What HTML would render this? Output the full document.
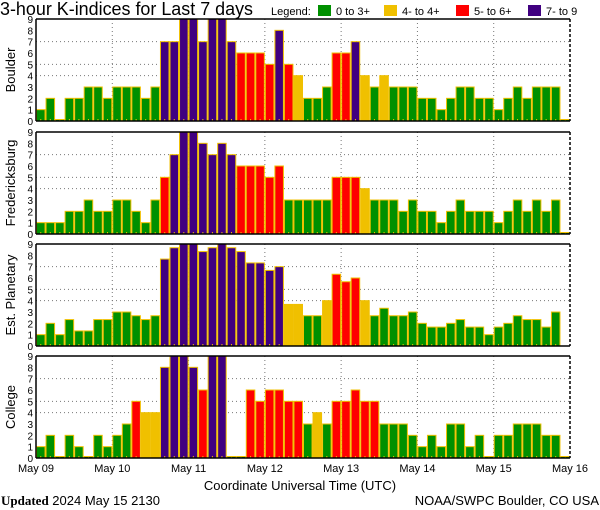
<!DOCTYPE html>
<html><head><meta charset="utf-8"><style>
body{margin:0;background:#fff}
svg{display:block;font-family:"Liberation Sans",sans-serif}
</style></head><body>
<svg id="c" width="600" height="510" viewBox="0 0 600 510">
<text x="0" y="15" font-size="18" textLength="253" lengthAdjust="spacingAndGlyphs">3-hour K-indices for Last 7 days</text>
<g font-size="11">
<text x="271" y="15">Legend:</text>
<rect x="318" y="5" width="13" height="11" fill="#009000"/><text x="336" y="15">0 to 3+</text>
<rect x="384" y="5" width="13" height="11" fill="#f0c000"/><text x="402" y="15">4- to 4+</text>
<rect x="456" y="5" width="13" height="11" fill="#ff0000"/><text x="474" y="15">5- to 6+</text>
<rect x="528" y="5" width="13" height="11" fill="#400080"/><text x="546" y="15">7- to 9</text>
</g>
<text x="300" y="490" font-size="13" text-anchor="middle">Coordinate Universal Time (UTC)</text>
<text x="1" y="505" font-size="13"><tspan font-weight="bold" font-family="Liberation Serif,serif">Updated</tspan> 2024 May 15 2130</text>
<text x="599" y="505" font-size="13" text-anchor="end">NOAA/SWPC Boulder, CO USA</text>
</svg>
<script>
const stations = ["Boulder","Fredericksburg","Est. Planetary","College"];
const dayLabels = ["May 09","May 10","May 11","May 12","May 13","May 14","May 15","May 16"];
const yTicks = [0,1,2,3,4,5,6,7,8,9];
const boulder = [1,2,0,2,2,3,3,2,3,3,3,2,3,7,7,9,9,7,9,9,7,6,6,6,5,8,5,4,2,2,3,6,6,7,4,3,4,3,3,3,2,2,1,2,3,3,2,2,1,2,3,2,3,3,3,0];
const fredericksburg = [1,1,1,2,2,3,2,2,3,3,2,1,3,5,7,9,9,8,7,8,7,6,6,6,5,6,3,3,3,3,3,5,5,5,4,3,3,3,2,3,2,2,1,2,3,2,2,2,1,2,3,2,3,2,3,0];
const planetary = [1,2,1,2.33,1.33,1.33,2.33,2.33,3,3,2.67,2.33,2.67,7.67,8.67,9,9,8.33,8.67,9,8.67,8.33,7.33,7.33,6.67,7,3.67,3.67,2.67,2.67,4,6.33,5.67,6,4,2.67,3.33,2.67,2.67,3,2,1.67,1.67,2,2.33,1.67,1.67,1,1.67,2,2.67,2.33,2.33,1.67,3,null];
const college = [1,2,0,2,1,0,2,1,2,3,5,4,4,8,9,9,8,6,9,9,0,0,6,5,6,6,5,5,3,4,3,5,5,6,5,5,3,3,3,2,1,2,1,3,3,1,2,0,2,2,3,3,3,2,2,0];
const series = [boulder,fredericksburg,planetary,college];
const panelTops = [19,132,244,356];
const X0=36,X1=570,PH=102,N=56;
const NS="http://www.w3.org/2000/svg";
const svg=document.getElementById('c');
function mk(t,a,p){const e=document.createElementNS(NS,t);for(const k in a)e.setAttribute(k,a[k]);(p||svg).appendChild(e);return e;}
const xs=i=>X0+i*(X1-X0)/N;
const bw=(X1-X0)/N;
function col(v){return v>=6.5?"#400080":v>=4.5?"#ff0000":v>=3.5?"#f0c000":"#009000";}
series.forEach((data,p)=>{
  const top=panelTops[p],bot=top+PH;
  const ys=v=>bot-v*PH/9;
  const g=mk('g',{});
  
  
  [4,5,7].forEach(v=>{mk('line',{x1:X0,x2:X1,y1:ys(v),y2:ys(v),stroke:'#777','stroke-dasharray':'1,3'},g);});
  for(let d=1;d<7;d++){mk('line',{x1:X0+d*8*bw,x2:X0+d*8*bw,y1:top,y2:bot,stroke:'#777','stroke-dasharray':'1,3'},g);}
  data.forEach((v,i)=>{
    if(v===null)return;
    const h=Math.max(v*PH/9,1.5);
    const r=mk('rect',{x:xs(i)+0.5,y:bot-h,width:bw-1,height:h,fill:col(v),stroke:'#f0c000','stroke-width':1},g);
    
    
    mk('line',{x1:xs(i)+bw/2,x2:xs(i)+bw/2,y1:bot,y2:bot-2,stroke:'#f0c000'},g);
  });
  mk('line',{x1:X0,x2:X1,y1:top,y2:top,stroke:'#000','stroke-width':1.5},g);
  mk('line',{x1:X0,x2:X1,y1:bot,y2:bot,stroke:'#000','stroke-width':1.5},g);
  mk('line',{x1:X0,x2:X0,y1:top,y2:bot,stroke:'#000','stroke-width':1.5},g);
  mk('line',{x1:X1,x2:X1,y1:top,y2:bot,stroke:'#000','stroke-width':1.5,'stroke-dasharray':'3,2'},g);
  yTicks.forEach(v=>{const t=mk('text',{x:33,y:ys(v)+4,'font-size':10,'text-anchor':'end'},g);t.textContent=v;});
  const lab=mk('text',{x:0,y:0,'font-size':13,'text-anchor':'middle',transform:`translate(15,${top+PH/2}) rotate(-90)`},g);
  lab.textContent=stations[p];
  
  
});
dayLabels.forEach((d,i)=>{
  const t=mk('text',{x:X0+i*8*bw,y:472,'font-size':11,'text-anchor':'middle'});
  t.textContent=d;
  
  
});
</script>
</body></html>
